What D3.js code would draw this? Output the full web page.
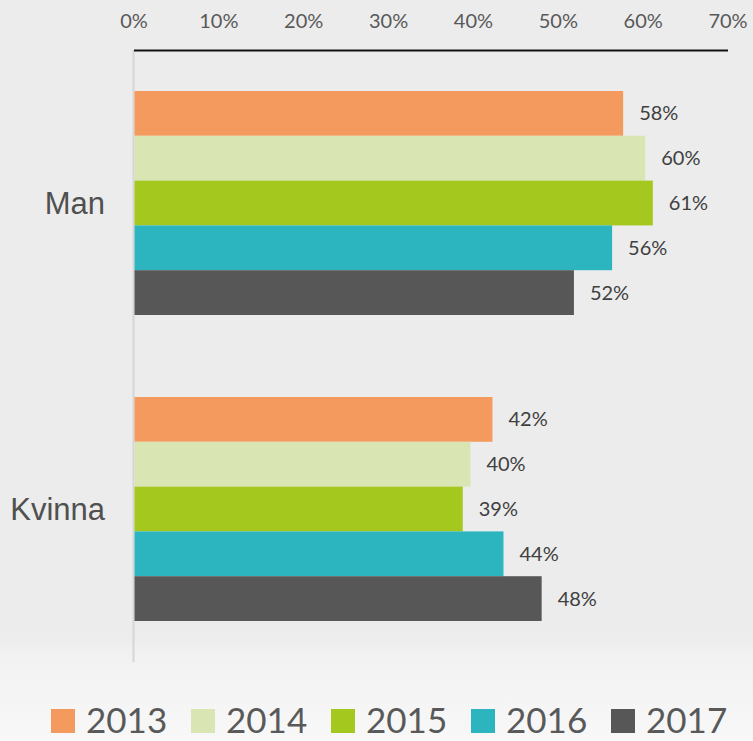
<!DOCTYPE html>
<html>
<head>
<meta charset="UTF-8">
<title></title>
<script src="https://cdn.jsdelivr.net/npm/d3@7/dist/d3.min.js"></script>
<style>
  body { margin: 0; }
  svg { display: block; }
</style>
</head>
<body>
<div id="chart"></div>
<script>
// kategorier och år
var categories = ["Man", "Kvinna"];
var years = ["2013", "2014", "2015", "2016", "2017"];
// andel per år (Man, Kvinna)
var man = [57.7, 60.3, 61.2, 56.4, 51.9];
var kvinna = [42.3, 39.7, 38.8, 43.6, 48.1];
var xTicks = [0, 10, 20, 30, 40, 50, 60, 70];
var colors = ["#f59a5f", "#d9e6b3", "#a5c81f", "#2cb5be", "#575757"];

var width = 753, height = 741;
var values = { "Man": man, "Kvinna": kvinna };

var svg = d3.select("#chart").append("svg")
  .attr("width", width)
  .attr("height", height);

// bakgrund
var grad = svg.append("defs").append("linearGradient")
  .attr("id", "bg").attr("x1", 0).attr("y1", 0).attr("x2", 0).attr("y2", 1);
grad.append("stop").attr("offset", "0.86").attr("stop-color", "#ececec");
grad.append("stop").attr("offset", "0.88").attr("stop-color", "#f1f1f1");
grad.append("stop").attr("offset", "1").attr("stop-color", "#f8f8f8");
svg.append("rect").attr("width", width).attr("height", height).attr("fill", "url(#bg)");

var x = d3.scaleLinear().domain([0, 70]).range([133.5, 727.5]);
var y = d3.scaleBand().domain(categories).range([50, 662])
  .paddingInner(0.268).paddingOuter(0.134);
var yInner = d3.scaleBand().domain(years).range([0, y.bandwidth()]);

// vertikal axellinje
svg.append("line")
  .attr("x1", x(0)).attr("x2", x(0))
  .attr("y1", 50).attr("y2", 662)
  .attr("stroke", "#d6d6d6").attr("stroke-width", 2);

// x-axel överst
var xAxis = svg.append("g")
  .attr("transform", "translate(0,50)")
  .call(d3.axisTop(x).tickValues(xTicks).tickSize(0).tickPadding(22)
    .tickFormat(function(d){ return d + "%"; }));
xAxis.select(".domain").attr("stroke", "#111").attr("stroke-width", 2);
xAxis.selectAll("text")
  .attr("font-family", "Lato, 'Open Sans', sans-serif")
  .attr("font-size", "20px")
  .attr("fill", "#595959");

// staplar
var groups = svg.selectAll("g.cat").data(categories).enter().append("g")
  .attr("class", "cat")
  .attr("transform", function(d){ return "translate(0," + y(d) + ")"; });

groups.selectAll("rect").data(function(d){ return values[d]; }).enter().append("rect")
  .attr("x", x(0) + 1)
  .attr("y", function(d, i){ return yInner(years[i]); })
  .attr("width", function(d){ return x(d) - x(0) - 1; })
  .attr("height", yInner.bandwidth())
  .attr("fill", function(d, i){ return colors[i]; });

groups.selectAll("text.val").data(function(d){ return values[d]; }).enter().append("text")
  .attr("class", "val")
  .attr("x", function(d){ return x(d) + 16; })
  .attr("y", function(d, i){ return yInner(years[i]) + yInner.bandwidth() / 2; })
  .attr("dy", "0.35em")
  .attr("font-family", "Lato, 'Open Sans', sans-serif")
  .attr("font-size", "20px")
  .attr("fill", "#404040")
  .text(function(d){ return Math.round(d) + "%"; });

// kategorinamn
groups.append("text")
  .attr("x", 105)
  .attr("y", y.bandwidth() / 2)
  .attr("dy", "0.35em")
  .attr("text-anchor", "end")
  .attr("font-family", "'Liberation Sans', Arial, sans-serif")
  .attr("font-size", "31px")
  .attr("fill", "#505050")
  .text(function(d){ return d; });

// legend
var legend = svg.selectAll("g.leg").data(years).enter().append("g")
  .attr("class", "leg")
  .attr("transform", function(d, i){ return "translate(" + (51 + i * 140) + ",709)"; });
legend.append("rect")
  .attr("width", 24).attr("height", 24)
  .attr("fill", function(d, i){ return colors[i]; });
legend.append("text")
  .attr("x", 35).attr("y", 24)
  .attr("font-family", "Lato, 'Open Sans', sans-serif")
  .attr("font-size", "35px")
  .attr("fill", "#595959")
  .text(function(d){ return d; });
</script>
</body>
</html>
